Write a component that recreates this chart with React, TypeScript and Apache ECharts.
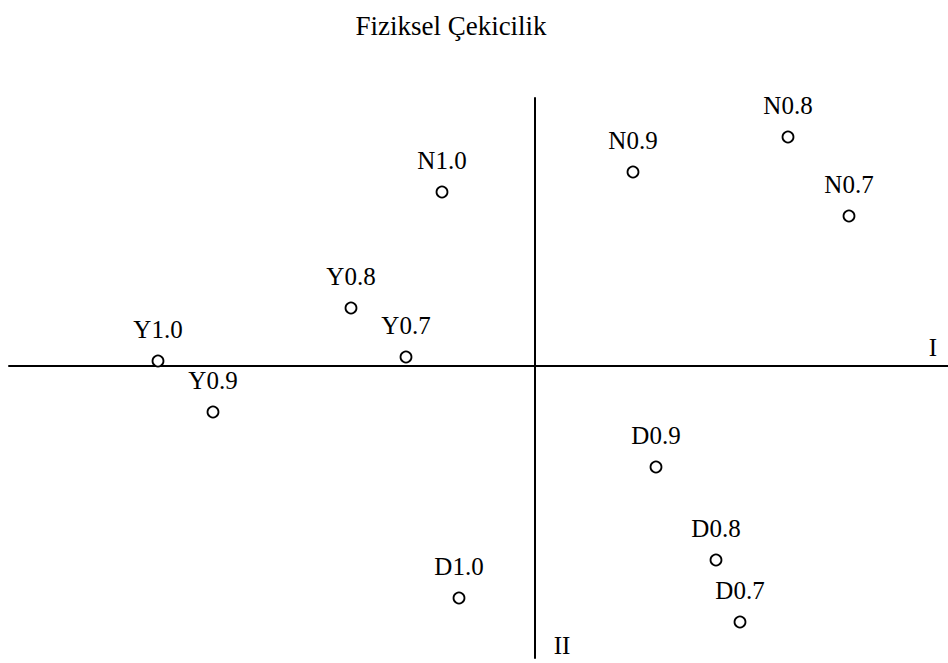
import React, { useEffect, useRef } from "react";
import * as echarts from "echarts";

const labels = ["Y1.0", "Y0.9", "Y0.8", "Y0.7", "N1.0", "N0.9", "N0.8", "N0.7", "D0.9", "D0.8", "D0.7", "D1.0"];
const xValues = [-3.77, -3.22, -1.84, -1.29, -0.93, 0.98, 2.53, 3.14, 1.21, 1.81, 2.05, -0.76];
const yValues = [0.05, -0.46, 0.58, 0.09, 1.74, 1.94, 2.29, 1.5, -1.01, -1.94, -2.56, -2.32];
const titleText = "Fiziksel Çekicilik";
const axisNameX = "I";
const axisNameY = "II";

const FONT = "Liberation Serif";

export default function App() {
  const ref = useRef<HTMLDivElement>(null);
  useEffect(() => {
    if (!ref.current) return;
    const chart = echarts.init(ref.current, null, { renderer: "svg" });
    const data = labels.map((name, i) => ({ name, value: [xValues[i], yValues[i]] }));
    chart.setOption({
      animation: false,
      backgroundColor: "#ffffff",
      textStyle: { fontFamily: FONT },
      title: {
        text: titleText,
        left: 446,
        top: 7,
        textAlign: "center",
        textStyle: { fontFamily: FONT, fontSize: 27, fontWeight: "normal", color: "#000" },
      },
      grid: { left: 9, right: 0, top: 98, bottom: 5, containLabel: false },
      xAxis: {
        type: "value",
        min: -5.26,
        max: 4.13,
        axisLine: { show: true, onZero: true, lineStyle: { color: "#000", width: 2 } },
        axisTick: { show: false },
        axisLabel: { show: false },
        splitLine: { show: false },
      },
      yAxis: {
        type: "value",
        min: -2.92,
        max: 2.68,
        axisLine: { show: true, onZero: true, lineStyle: { color: "#000", width: 2 } },
        axisTick: { show: false },
        axisLabel: { show: false },
        splitLine: { show: false },
      },
      graphic: [
        {
          type: "text",
          x: 933,
          y: 347,
          style: { text: axisNameX, fontFamily: FONT, fontSize: 25, fill: "#000", align: "center", verticalAlign: "middle" },
        },
        {
          type: "text",
          x: 562,
          y: 645,
          style: { text: axisNameY, fontFamily: FONT, fontSize: 25, fill: "#000", align: "center", verticalAlign: "middle" },
        },
      ],
      series: [
        {
          type: "scatter",
          data,
          symbol: "circle",
          symbolSize: 11,
          itemStyle: { color: "#fff", borderColor: "#000", borderWidth: 1.8, opacity: 1 },
          label: {
            show: true,
            position: "top",
            distance: 13,
            formatter: "{b}",
            fontFamily: FONT,
            fontSize: 25,
            fontWeight: "normal",
            color: "#000",
            textBorderWidth: 0,
          },
          emphasis: { disabled: true },
        },
      ],
    });
    return () => chart.dispose();
  }, []);
  return (
    <div
      ref={ref}
      style={{ position: "fixed", left: 0, top: 0, width: 948, height: 663, background: "#fff" }}
    />
  );
}
